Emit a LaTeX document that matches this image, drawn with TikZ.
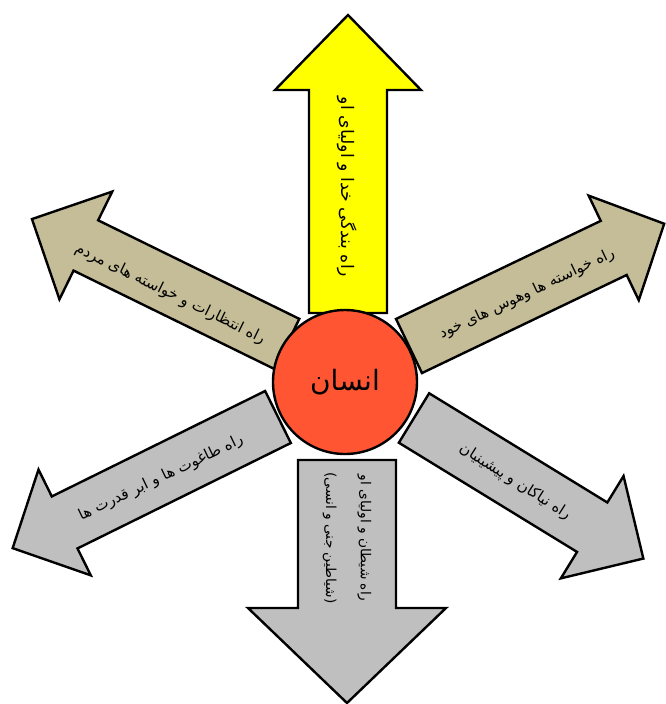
\documentclass[tikz,border=0pt]{standalone}
\usepackage{fontspec}
\usepackage{tikz}
\usetikzlibrary{positioning}
\newfontfamily\arabicfont[Script=Arabic]{DejaVu Sans}
\TeXXeTstate=1
\definecolor{wayyellow}{HTML}{FFFF00}
\definecolor{waytan}{HTML}{C4BD97}
\definecolor{waygray}{HTML}{BFBFBF}
\definecolor{manred}{HTML}{FF5533}
\tikzset{
  wayarrow/.style={draw=black, line width=1.8pt, line join=miter},
  waytext/.style={font=\arabicfont\fontsize{11.3}{15}\selectfont, inner sep=1pt, align=center},
  bigtext/.style={waytext, font=\arabicfont\fontsize{13}{19}\selectfont},
  man/.style={circle, draw=black, line width=1.8pt, fill=manred, minimum size=108pt, font=\arabicfont\fontsize{21}{24}\selectfont},
  pics/bigarrow/.style n args={4}{code={
    \path[pic actions] (0,-#2) -- ({#1-#4},-#2) -- ({#1-#4},-#3) -- (#1,0) -- ({#1-#4},#3) -- ({#1-#4},#2) -- (0,#2) -- cycle;
  }},
}

\begin{document}
\begin{tikzpicture}[x=0.75pt, y=-0.75pt]
        \useasboundingbox (0,0) rectangle (665,704);

        % Up arrow
        \pic[wayarrow, fill=wayyellow, rotate=90] at (348,313) {bigarrow={298}{39}{73}{75}};
        \node[bigtext, rotate=-90] (god) at (347,187) {\beginR راه بندگی خدا و اولیای او\endR};

        % Down arrow
        \pic[wayarrow, fill=waygray, rotate=-90] at (347,460) {bigarrow={243}{49}{99}{95}};
        \node[waytext, rotate=-90, font=\arabicfont\fontsize{10.3}{26}\selectfont] (satan) at (347,538) {\beginR راه شیطان و اولیای او\endR\\\beginR (شیاطین جنی و انسی)\endR};

        % Upper left arrow
        \pic[wayarrow, fill=waytan, rotate=153.9] at (287,344) {bigarrow={284}{28}{60}{60}};
        \node[waytext, rotate=-26.1] (people) at (170,294) {\beginR راه انتظارات و خواسته های مردم\endR};

        % Upper right arrow
        \pic[wayarrow, fill=waytan, rotate=25.6] at (409,346) {bigarrow={283}{30}{58}{56}};
        \node[waytext, rotate=25.4] (desire) at (527,294) {\beginR راه خواسته ها وهوس های خود\endR};

        % Lower left arrow
        \pic[wayarrow, fill=waygray, rotate=206.3] at (278,417) {bigarrow={296}{29}{59}{58}};
        \node[waytext, rotate=25.5] (tyrant) at (161,478) {\beginR راه طاغوت ها و ابر قدرت ها\endR};

        % Lower right arrow
        \pic[wayarrow, fill=waygray, rotate=-31.5] at (414,418) {bigarrow={269}{29}{60}{60}};
        \node[waytext, rotate=-32.5] (elders) at (515,482) {\beginR راه نیاکان و پیشینیان\endR};

        % Centre
        \node[man] (insan) at (345,382) {\beginR انسان\endR};
\end{tikzpicture}
\end{document}
